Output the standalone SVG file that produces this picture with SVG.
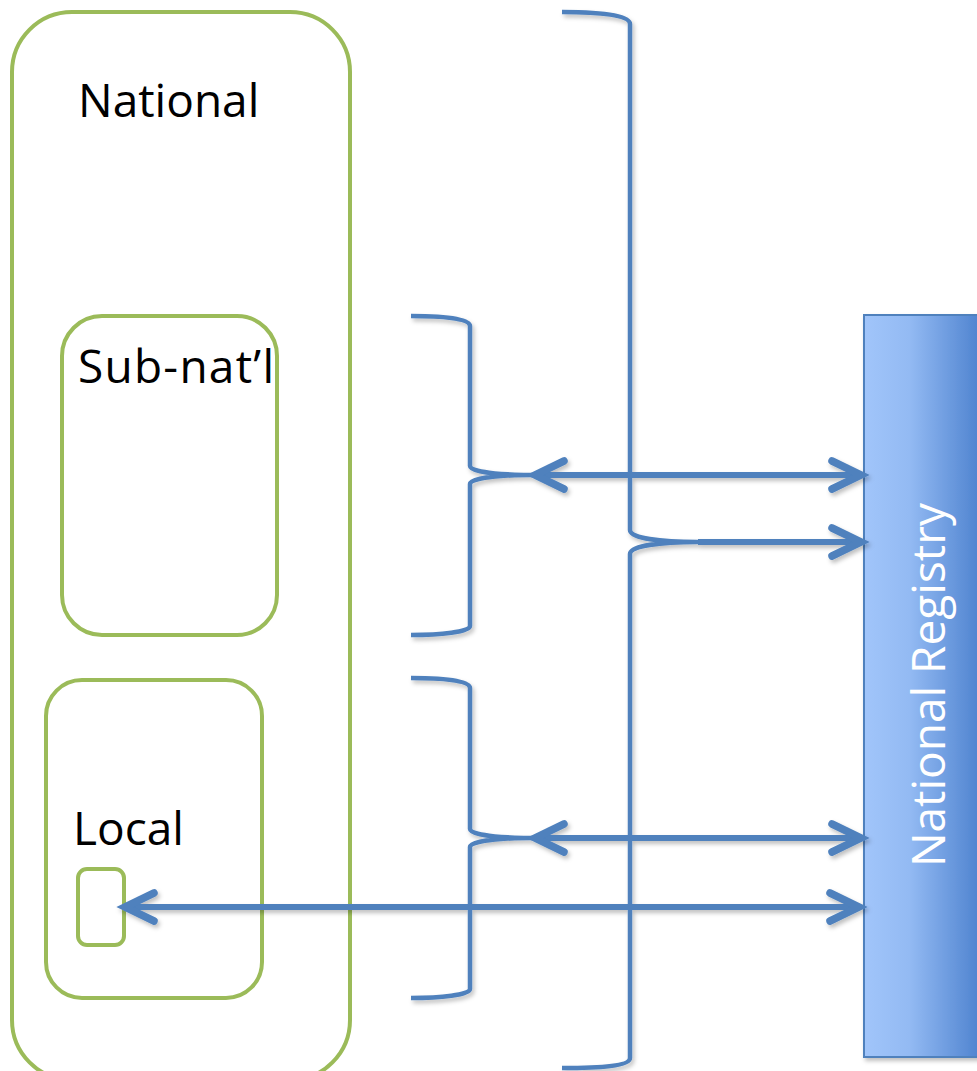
<svg xmlns="http://www.w3.org/2000/svg" width="977" height="1071" viewBox="0 0 977 1071">
  <defs>
    <style>
      .grp { fill: none; stroke: #9BBB59; stroke-width: 4; }
      .lbl { font-family: "Open Sans", "Liberation Sans", sans-serif; font-size: 46px; fill: #000; }
      .brace { fill: none; stroke: #4F81BD; stroke-width: 4.5; stroke-linejoin: round; }
      .conn { fill: none; stroke: #4F81BD; stroke-width: 6; }
    </style>
    <linearGradient id="regGrad" x1="0" y1="0" x2="1" y2="0">
      <stop offset="0" stop-color="#A1C5FA"/>
      <stop offset="0.35" stop-color="#93BAF3"/>
      <stop offset="1" stop-color="#4178C8"/>
    </linearGradient>
    <filter id="shadow" x="-10%" y="-10%" width="130%" height="130%">
      <feDropShadow dx="2" dy="3" stdDeviation="2" flood-color="#000" flood-opacity="0.25"/>
    </filter>
    <marker id="arrow" markerUnits="userSpaceOnUse" markerWidth="40" markerHeight="40" viewBox="-36 -20 40 40" refX="0" refY="0" orient="auto-start-reverse" overflow="visible">
      <path d="M -29 -14 L 0 0 L -29 14" fill="none" stroke="#4F81BD" stroke-width="7.5" stroke-linecap="round" stroke-linejoin="miter"/>
    </marker>
  </defs>

  <g id="national">
    <rect class="grp" x="12" y="12" width="338" height="1068" rx="60" ry="60"/>
    <text class="lbl" x="78" y="117">National</text>
  </g>

  <g id="subnational">
    <rect class="grp" x="62" y="316" width="215" height="319" rx="40" ry="40"/>
    <text class="lbl" x="78" y="383" textLength="196" lengthAdjust="spacing">Sub-nat’l</text>
  </g>

  <g id="local">
    <rect class="grp" x="46" y="680" width="216" height="318" rx="36" ry="36"/>
    <text class="lbl" x="73" y="845">Local</text>
  </g>

  <g id="local-unit">
    <rect class="grp" x="78" y="869" width="46" height="76" rx="9" ry="9"/>
  </g>

  <g id="national-registry">
    <rect x="864" y="315" width="130" height="742" fill="url(#regGrad)" stroke="#4F81BD" stroke-width="2" filter="url(#shadow)"/>
    <text class="lbl" transform="translate(945,685) rotate(-90)" text-anchor="middle" style="fill:#FFFFFF" font-size="47">National Registry</text>
  </g>

  <g id="connectors" filter="url(#shadow)">
    <path class="brace" d="M562,12 C600,12 630,15 630,24 L630,530 C630,538 660,542 698,542 C660,542 630,546 630,554 L630,1058 C630,1066 600,1068 562,1068"/>
    <path class="brace" d="M411,316 C440,316 470,318 470,326 L470,466 C470,472 500,475 533,475 C500,475 470,478 470,484 L470,626 C470,632 440,635 411,635"/>
    <path class="brace" d="M411,678 C440,678 470,680 470,688 L470,829 C470,835 500,838 533,838 C500,838 470,841 470,847 L470,989 C470,995 440,998 411,998"/>
    <line class="conn" x1="535" y1="475" x2="861" y2="475" marker-start="url(#arrow)" marker-end="url(#arrow)"/>
    <line class="conn" x1="698" y1="542" x2="861" y2="542" marker-end="url(#arrow)"/>
    <line class="conn" x1="535" y1="838" x2="861" y2="838" marker-start="url(#arrow)" marker-end="url(#arrow)"/>
    <line class="conn" x1="125" y1="907" x2="859" y2="907" marker-start="url(#arrow)" marker-end="url(#arrow)"/>
  </g>
</svg>
